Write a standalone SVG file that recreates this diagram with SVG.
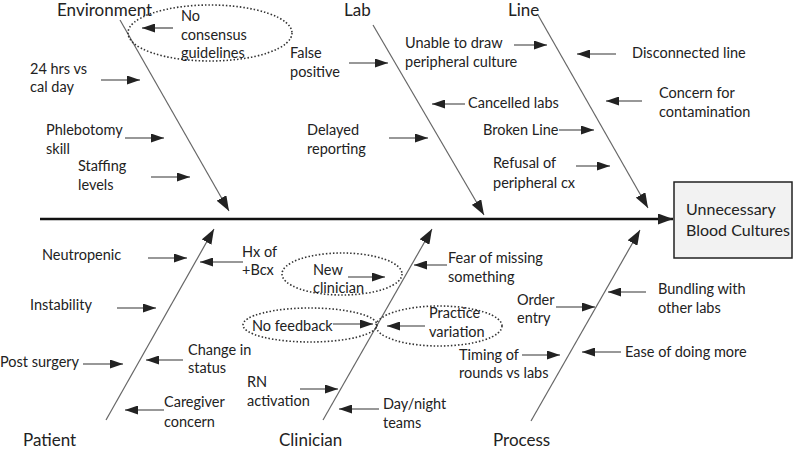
<svg xmlns="http://www.w3.org/2000/svg" width="800" height="452" viewBox="0 0 800 452">
<defs>
<marker id="ah" markerUnits="userSpaceOnUse" markerWidth="13" markerHeight="9" refX="13" refY="4.5" orient="auto"><path d="M0,0 L13,4.5 L0,9 z" fill="#222"/></marker>
<marker id="ahb" markerUnits="userSpaceOnUse" markerWidth="15" markerHeight="11" refX="15" refY="5.5" orient="auto"><path d="M0,0 L15,5.5 L0,11 z" fill="#222"/></marker>
<style>
text{font-family:Lato,"Liberation Sans",sans-serif;font-size:14.5px;fill:#222}
.cat{font-size:17px}
.eff{font-size:16px}
.bone{stroke:#666;stroke-width:1.2;fill:none;marker-end:url(#ahb)}
.arr{stroke:#333;stroke-width:1.1;fill:none;marker-end:url(#ah)}
.oval{fill:none;stroke:#333;stroke-width:1.6;stroke-dasharray:1.5 2}
</style>
</defs>
<rect width="800" height="452" fill="#fff"/>
<g id="connectors">
<line x1="40" y1="219" x2="673" y2="219" stroke="#111" stroke-width="2.5" marker-end="url(#ahb)"/>
<line class="bone" x1="120" y1="20" x2="229" y2="211"/>
<line class="bone" x1="373" y1="25" x2="484" y2="215"/>
<line class="bone" x1="538" y1="15" x2="648" y2="208"/>
<line class="bone" x1="106" y1="420" x2="214" y2="229"/>
<line class="bone" x1="323" y1="420" x2="432" y2="229"/>
<line class="bone" x1="531" y1="421" x2="640" y2="230"/>
<line class="arr" x1="173" y1="28" x2="142" y2="28"/>
<line class="arr" x1="101" y1="80" x2="140" y2="80"/>
<line class="arr" x1="125" y1="138" x2="164" y2="138"/>
<line class="arr" x1="151" y1="177" x2="190" y2="177"/>
<line class="arr" x1="349" y1="63" x2="388" y2="63"/>
<line class="arr" x1="514" y1="45" x2="547" y2="45"/>
<line class="arr" x1="465" y1="104" x2="432" y2="104"/>
<line class="arr" x1="389" y1="138" x2="428" y2="138"/>
<line class="arr" x1="559" y1="130" x2="594" y2="130"/>
<line class="arr" x1="576" y1="166" x2="610" y2="166"/>
<line class="arr" x1="616" y1="54" x2="577" y2="54"/>
<line class="arr" x1="642" y1="101" x2="606" y2="101"/>
<line class="arr" x1="148" y1="258" x2="187" y2="258"/>
<line class="arr" x1="243" y1="262" x2="200" y2="262"/>
<line class="arr" x1="117" y1="308" x2="156" y2="308"/>
<line class="arr" x1="83" y1="364" x2="123" y2="364"/>
<line class="arr" x1="183" y1="360" x2="146" y2="360"/>
<line class="arr" x1="164" y1="410" x2="125" y2="410"/>
<line class="arr" x1="348" y1="277" x2="385" y2="277"/>
<line class="arr" x1="447" y1="265" x2="414" y2="265"/>
<line class="arr" x1="333" y1="324" x2="373" y2="324"/>
<line class="arr" x1="425" y1="326" x2="387" y2="326"/>
<line class="arr" x1="300" y1="389" x2="338" y2="389"/>
<line class="arr" x1="379" y1="409" x2="339" y2="409"/>
<line class="arr" x1="556" y1="307" x2="595" y2="307"/>
<line class="arr" x1="646" y1="292" x2="608" y2="292"/>
<line class="arr" x1="522" y1="355" x2="560" y2="355"/>
<line class="arr" x1="621" y1="352" x2="582" y2="352"/>
</g>
<g id="effect">
<rect x="674" y="182" width="118" height="76" fill="#f2f2f2" stroke="#222" stroke-width="1.5"/>
<text class="eff" x="686" y="215">Unnecessary</text>
<text class="eff" x="686" y="236">Blood Cultures</text>
</g>
<g id="cat-environment"><text class="cat" x="57" y="16">Environment</text></g>
<g id="cat-lab"><text class="cat" x="344" y="16">Lab</text></g>
<g id="cat-line"><text class="cat" x="508" y="16">Line</text></g>
<g id="cat-patient"><text class="cat" x="23" y="446">Patient</text></g>
<g id="cat-clinician"><text class="cat" x="279" y="446">Clinician</text></g>
<g id="cat-process"><text class="cat" x="493" y="446">Process</text></g>
<g id="no-consensus"><ellipse class="oval" cx="210" cy="33" rx="82" ry="28"/><text x="181" y="21">No</text><text x="181" y="40">consensus</text><text x="181" y="58">guidelines</text></g>
<g id="hrs-vs-day"><text x="30" y="74">24 hrs vs</text><text x="30" y="92">cal day</text></g>
<g id="phlebotomy"><text x="46" y="135">Phlebotomy</text><text x="46" y="154">skill</text></g>
<g id="staffing"><text x="78" y="171">Staffing</text><text x="78" y="190">levels</text></g>
<g id="false-positive"><text x="290" y="58">False</text><text x="290" y="77">positive</text></g>
<g id="unable-draw"><text x="405" y="48">Unable to draw</text><text x="405" y="67">peripheral culture</text></g>
<g id="cancelled-labs"><text x="468" y="108">Cancelled labs</text></g>
<g id="delayed-reporting"><text x="307" y="135">Delayed</text><text x="307" y="154">reporting</text></g>
<g id="broken-line"><text x="483" y="135">Broken Line</text></g>
<g id="refusal"><text x="493" y="168">Refusal of</text><text x="493" y="188">peripheral cx</text></g>
<g id="disconnected"><text x="632" y="58">Disconnected line</text></g>
<g id="contamination"><text x="659" y="98">Concern for</text><text x="659" y="117">contamination</text></g>
<g id="neutropenic"><text x="42" y="260">Neutropenic</text></g>
<g id="hx-bcx"><text x="242" y="257">Hx of</text><text x="242" y="275">+Bcx</text></g>
<g id="instability"><text x="30" y="310">Instability</text></g>
<g id="post-surgery"><text x="0" y="367">Post surgery</text></g>
<g id="change-status"><text x="188" y="355">Change in</text><text x="188" y="373">status</text></g>
<g id="caregiver"><text x="164" y="407">Caregiver</text><text x="164" y="427">concern</text></g>
<g id="new-clinician"><ellipse class="oval" cx="342" cy="274" rx="60" ry="21"/><text x="313" y="275">New</text><text x="313" y="293">clinician</text></g>
<g id="fear-missing"><text x="448" y="263">Fear of missing</text><text x="448" y="282">something</text></g>
<g id="no-feedback"><ellipse class="oval" cx="310" cy="325" rx="67" ry="17"/><text x="252" y="331">No feedback</text></g>
<g id="practice-variation"><ellipse class="oval" cx="439" cy="326" rx="63" ry="20"/><text x="429" y="318">Practice</text><text x="429" y="337">variation</text></g>
<g id="rn-activation"><text x="247" y="387">RN</text><text x="247" y="406">activation</text></g>
<g id="day-night"><text x="383" y="409">Day/night</text><text x="383" y="428">teams</text></g>
<g id="order-entry"><text x="517" y="305">Order</text><text x="517" y="323">entry</text></g>
<g id="bundling"><text x="658" y="294">Bundling with</text><text x="658" y="313">other labs</text></g>
<g id="timing"><text x="459" y="360">Timing of</text><text x="459" y="378">rounds vs labs</text></g>
<g id="ease"><text x="625" y="357">Ease of doing more</text></g>
</svg>
